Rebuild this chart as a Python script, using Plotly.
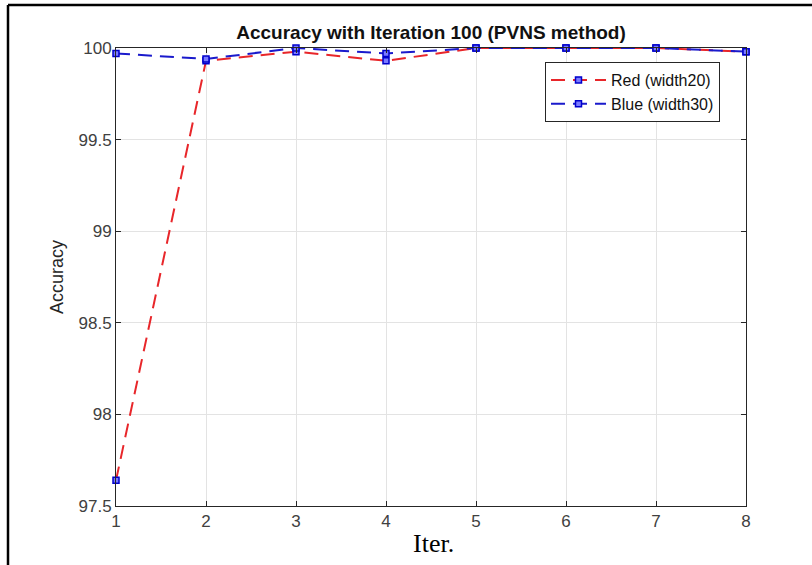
import plotly.graph_objects as go

iters = [1, 2, 3, 4, 5, 6, 7, 8]
red_acc = [97.64, 99.93, 99.98, 99.93, 100.0, 100.0, 100.0, 99.98]
blue_acc = [99.97, 99.94, 100.0, 99.97, 100.0, 100.0, 100.0, 99.98]
y_ticks = [97.5, 98, 98.5, 99, 99.5, 100]
y_tick_text = ["97.5", "98", "98.5", "99", "99.5", "100"]
x_ticks = [1, 2, 3, 4, 5, 6, 7, 8]

W, H = 812, 565
L, R, T, B = 116, 66, 48, 59
pw, ph = W - L - R, H - T - B

def px(x):
    return (x - L) / pw

def py(y):
    return (H - B - y) / ph

marker = dict(symbol="square", size=6, color="#7a7aff", line=dict(color="#0000cc", width=1.5))

fig = go.Figure()
fig.add_trace(go.Scatter(
    x=iters, y=red_acc, name="Red (width20)", mode="lines+markers",
    line=dict(color="#e8262a", width=2, dash="14px,8px"), marker=marker, cliponaxis=False))
fig.add_trace(go.Scatter(
    x=iters, y=blue_acc, name="Blue (width30)", mode="lines+markers",
    line=dict(color="#1a1acc", width=2, dash="14px,8px"), marker=marker, cliponaxis=False))

axis_common = dict(
    showline=True, linecolor="#262626", linewidth=1, mirror="ticks",
    ticks="inside", ticklen=5, tickcolor="#262626",
    showgrid=True, gridcolor="#e3e3e3", gridwidth=1, zeroline=False,
    tickfont=dict(family="Arial, Liberation Sans, sans-serif", size=17, color="#404040"),
)

fig.update_layout(
    width=W, height=H,
    margin=dict(l=L, r=R, t=T, b=B),
    paper_bgcolor="white", plot_bgcolor="white",
    title=dict(text="<b>Accuracy with Iteration 100 (PVNS method)</b>",
               x=0.5, xref="paper", xanchor="center",
               y=1 - 32 / H, yref="container", yanchor="middle",
               font=dict(family="Arial, Liberation Sans, sans-serif", size=19, color="#111111")),
    xaxis=dict(range=[1, 8], tickvals=x_ticks, **axis_common),
    yaxis=dict(range=[97.5, 100], tickvals=y_ticks, ticktext=y_tick_text,
               title=dict(text="Accuracy", standoff=10,
                          font=dict(family="Arial, Liberation Sans, sans-serif", size=18, color="#262626")),
               **axis_common),
    legend=dict(x=px(545), y=py(62), xanchor="left", yanchor="top",
                bgcolor="white", bordercolor="#262626", borderwidth=1,
                font=dict(family="Arial, Liberation Sans, sans-serif", size=16, color="#111111"),
                itemwidth=55, tracegroupgap=0),
    showlegend=True,
)

fig.add_annotation(text="Iter.", x=px(433), y=py(543), xref="paper", yref="paper",
                   xanchor="center", yanchor="middle", showarrow=False,
                   font=dict(family="Liberation Serif, Times New Roman, serif", size=26, color="black"))

# outer frame lines (top and left)
fig.add_shape(type="line", xref="paper", yref="paper",
              x0=px(8), x1=px(W + 5), y0=py(5), y1=py(5),
              line=dict(color="black", width=2.5))
fig.add_shape(type="line", xref="paper", yref="paper",
              x0=px(8), x1=px(8), y0=py(5), y1=py(H + 5),
              line=dict(color="black", width=2.5))

fig.write_html("out.html")
